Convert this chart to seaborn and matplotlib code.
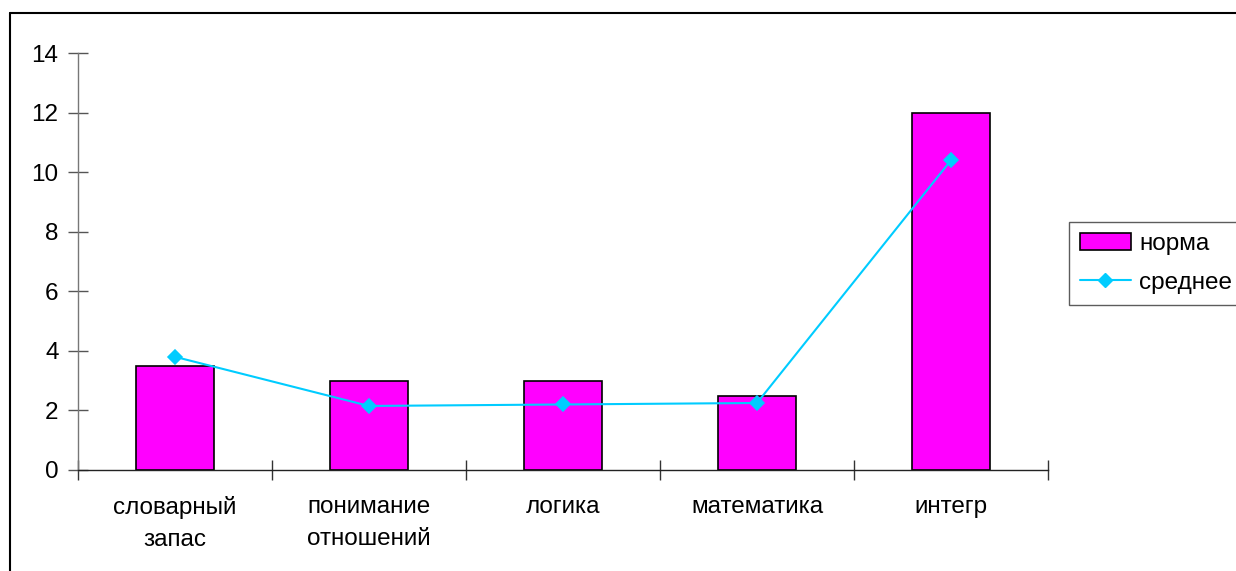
import matplotlib
matplotlib.use("Agg")
import matplotlib.pyplot as plt
from matplotlib.lines import Line2D
import seaborn as sns
import pandas as pd
import numpy as np

categories = ["словарный\nзапас", "понимание\nотношений", "логика", "математика", "интегр"]
norma = [3.5, 3.0, 3.0, 2.5, 12.0]
srednee = [3.8, 2.15, 2.2, 2.25, 10.4]
yticks = [0, 2, 4, 6, 8, 10, 12, 14]

sns.set_theme(style="white")
plt.rcParams['font.family'] = ['Liberation Sans', 'DejaVu Sans']
plt.rcParams['text.color'] = 'black'

W, H = 1236, 571
fig = plt.figure(figsize=(W / 100, H / 100), dpi=100)
ax = fig.add_axes([78 / W, 1 - 470 / H, (1048 - 78) / W, (470 - 53) / H])

df = pd.DataFrame({"cat": categories, "norma": norma, "srednee": srednee})
sns.barplot(data=df, x="cat", y="norma", color="#FF00FF", edgecolor="black",
            linewidth=1.2, width=0.4, saturation=1, ax=ax, label="норма")
sns.pointplot(data=df, x="cat", y="srednee", color="#00CCFF", markers="D",
              linestyles="-", markersize=7.5, linewidth=1.5, ax=ax, label="среднее")

fs = 17.5
ax.set_xlim(-0.5, 4.5)
ax.set_ylim(0, 14)
ax.set_yticks(yticks)
ax.set_yticklabels([str(v) for v in yticks], fontsize=fs, color="black")
ax.set_xticks(range(len(categories)))
ax.set_xticklabels(categories, fontsize=fs, linespacing=1.55, color="black")
ax.set_xticks(np.arange(-0.5, 5.0, 1.0), minor=True)
ax.tick_params(axis="x", which="both", bottom=True)
ax.tick_params(axis="y", which="both", left=True)
ax.tick_params(axis="x", which="major", length=0, pad=19)
ax.tick_params(axis="x", which="minor", length=14, direction="inout", width=1, color="#333333")
ax.tick_params(axis="y", which="major", length=14, direction="inout", width=1, color="#555555", pad=7)
ax.set_xlabel("")
ax.set_ylabel("")
for s in ["top", "right"]:
    ax.spines[s].set_visible(False)
ax.spines["left"].set_color("#777777")
ax.spines["left"].set_linewidth(1)
ax.spines["bottom"].set_color("#222222")
ax.spines["bottom"].set_linewidth(1)

handles = [plt.Rectangle((0, 0), 1, 1, facecolor="#FF00FF", edgecolor="black", linewidth=1.2),
           Line2D([0], [0], color="#00CCFF", marker="D", markersize=7.5, linewidth=1.5)]
leg = ax.legend(handles, ["норма", "среднее"], loc="upper left",
                bbox_to_anchor=(1069 / W, 1 - 222 / H), bbox_transform=fig.transFigure,
                fontsize=fs, frameon=True, fancybox=False, borderaxespad=0,
                handlelength=2.1, handletextpad=0.35, borderpad=0.45, labelspacing=0.7)
leg.get_frame().set_edgecolor("#333333")
leg.get_frame().set_linewidth(1)
for t in leg.get_texts():
    t.set_color("black")

fig.add_artist(Line2D([10 / W, 10 / W], [0, 1 - 13 / H], color="black", linewidth=1.5))
fig.add_artist(Line2D([10 / W, 1], [1 - 13 / H, 1 - 13 / H], color="black", linewidth=1.5))

fig.savefig("out.png", dpi=100)
